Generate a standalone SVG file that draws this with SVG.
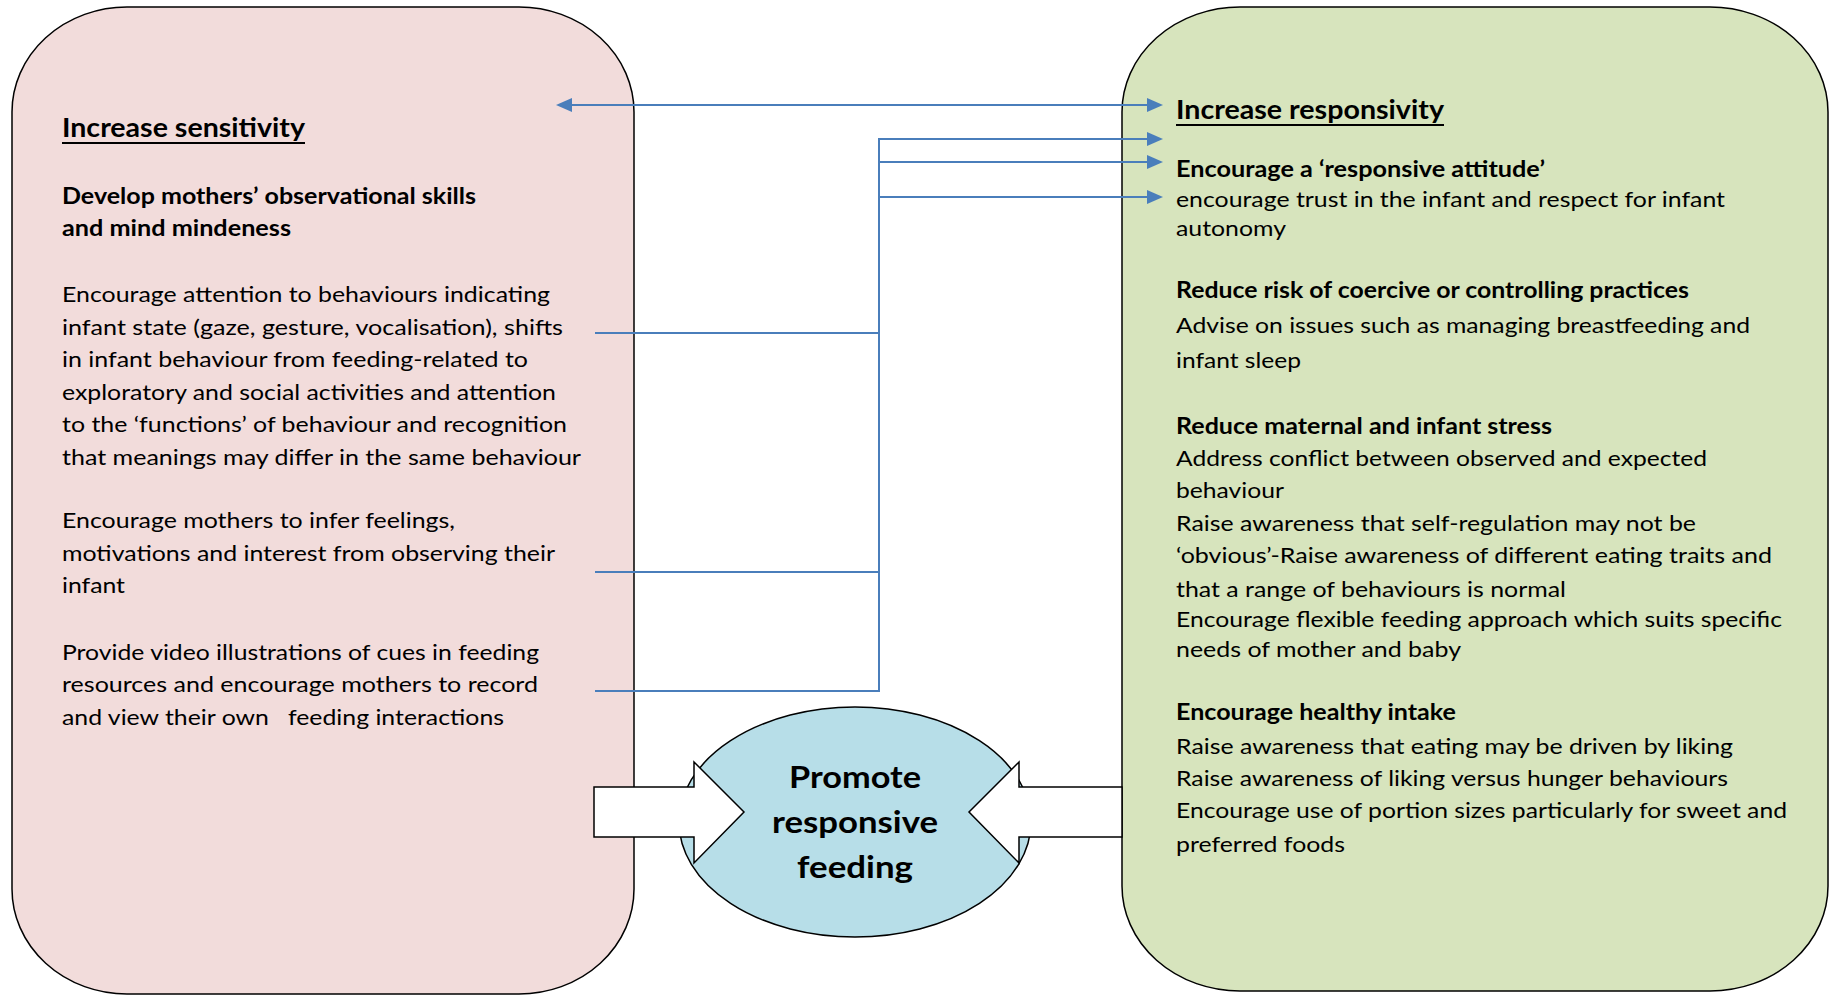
<svg xmlns="http://www.w3.org/2000/svg" width="1830" height="995" viewBox="0 0 1830 995">
  <style>
    text { font-family: Lato, "Open Sans", "Liberation Sans", sans-serif; fill: #000; }
    .body { font-size: 22px; }
    .head { font-size: 22px; font-weight: bold; }
    .title { font-size: 26px; font-weight: bold; }
    .center { font-size: 30px; font-weight: bold; text-anchor: middle; }
    .pre { white-space: pre; }
    .uline { stroke: #000; stroke-width: 2; }
    .box { stroke: #000; stroke-width: 1.5; }
    .conn { fill: none; stroke: #4a7ebb; stroke-width: 2; }
    .block { fill: #fff; stroke: #000; stroke-width: 1.5; stroke-linejoin: miter; }
  </style>
  <defs>
    <marker id="arrow" viewBox="0 0 16 14" refX="2" refY="7" markerWidth="16" markerHeight="14" markerUnits="userSpaceOnUse" orient="auto-start-reverse">
      <path d="M0,0 L16,7 L0,14 z" fill="#4a7ebb"/>
    </marker>
  </defs>

  <rect width="1830" height="995" fill="#fff"/>

  <!-- Sensitivity panel -->
  <g id="sensitivity">
    <rect class="box" x="12" y="7" width="622" height="987" rx="115" ry="105" fill="#f2dcdb"/>
    <text class="title" x="62" y="137" textLength="243" lengthAdjust="spacingAndGlyphs">Increase sensitivity</text>
    <line class="uline" x1="62" y1="143" x2="305" y2="143"/>
    <text class="head" x="62" y="204" textLength="414" lengthAdjust="spacingAndGlyphs">Develop mothers’ observational skills</text>
    <text class="head" x="62" y="236" textLength="229" lengthAdjust="spacingAndGlyphs">and mind mindeness</text>
    <text class="body" x="62" y="302" textLength="488" lengthAdjust="spacingAndGlyphs">Encourage attention to behaviours indicating</text>
    <text class="body" x="62" y="334.5" textLength="501" lengthAdjust="spacingAndGlyphs">infant state (gaze, gesture, vocalisation), shifts</text>
    <text class="body" x="62" y="367" textLength="466" lengthAdjust="spacingAndGlyphs">in infant behaviour from feeding-related to</text>
    <text class="body" x="62" y="399.5" textLength="494" lengthAdjust="spacingAndGlyphs">exploratory and social activities and attention</text>
    <text class="body" x="62" y="432" textLength="505" lengthAdjust="spacingAndGlyphs">to the ‘functions’ of behaviour and recognition</text>
    <text class="body" x="62" y="464.5" textLength="519" lengthAdjust="spacingAndGlyphs">that meanings may differ in the same behaviour</text>
    <text class="body" x="62" y="528" textLength="393" lengthAdjust="spacingAndGlyphs">Encourage mothers to infer feelings,</text>
    <text class="body" x="62" y="561" textLength="493" lengthAdjust="spacingAndGlyphs">motivations and interest from observing their</text>
    <text class="body" x="62" y="593" textLength="63" lengthAdjust="spacingAndGlyphs">infant</text>
    <text class="body" x="62" y="660" textLength="477" lengthAdjust="spacingAndGlyphs">Provide video illustrations of cues in feeding</text>
    <text class="body" x="62" y="692" textLength="476" lengthAdjust="spacingAndGlyphs">resources and encourage mothers to record</text>
    <text class="body pre" x="62" y="725" textLength="442" lengthAdjust="spacingAndGlyphs">and view their own   feeding interactions</text>
  </g>

  <!-- Responsivity panel -->
  <g id="responsivity">
    <rect class="box" x="1122" y="7" width="706" height="984" rx="118" ry="105" fill="#d7e4bd"/>
    <text class="title" x="1176" y="119" textLength="268" lengthAdjust="spacingAndGlyphs">Increase responsivity</text>
    <line class="uline" x1="1176" y1="125" x2="1444" y2="125"/>
    <text class="head" x="1176" y="177" textLength="369" lengthAdjust="spacingAndGlyphs">Encourage a ‘responsive attitude’</text>
    <text class="body" x="1176" y="207" textLength="549" lengthAdjust="spacingAndGlyphs">encourage trust in the infant and respect for infant</text>
    <text class="body" x="1176" y="236" textLength="110" lengthAdjust="spacingAndGlyphs">autonomy</text>
    <text class="head" x="1176" y="298" textLength="513" lengthAdjust="spacingAndGlyphs">Reduce risk of coercive or controlling practices</text>
    <text class="body" x="1176" y="333" textLength="574" lengthAdjust="spacingAndGlyphs">Advise on issues such as managing breastfeeding and</text>
    <text class="body" x="1176" y="368" textLength="125" lengthAdjust="spacingAndGlyphs">infant sleep</text>
    <text class="head" x="1176" y="434" textLength="376" lengthAdjust="spacingAndGlyphs">Reduce maternal and infant stress</text>
    <text class="body" x="1176" y="466" textLength="531" lengthAdjust="spacingAndGlyphs">Address conflict between observed and expected</text>
    <text class="body" x="1176" y="498" textLength="108" lengthAdjust="spacingAndGlyphs">behaviour</text>
    <text class="body" x="1176" y="531" textLength="520" lengthAdjust="spacingAndGlyphs">Raise awareness that self-regulation may not be</text>
    <text class="body" x="1176" y="563" textLength="596" lengthAdjust="spacingAndGlyphs">‘obvious’-Raise awareness of different eating traits and</text>
    <text class="body" x="1176" y="597" textLength="390" lengthAdjust="spacingAndGlyphs">that a range of behaviours is normal</text>
    <text class="body" x="1176" y="627" textLength="606" lengthAdjust="spacingAndGlyphs">Encourage flexible feeding approach which suits specific</text>
    <text class="body" x="1176" y="657" textLength="285" lengthAdjust="spacingAndGlyphs">needs of mother and baby</text>
    <text class="head" x="1176" y="720" textLength="280" lengthAdjust="spacingAndGlyphs">Encourage healthy intake</text>
    <text class="body" x="1176" y="754" textLength="557" lengthAdjust="spacingAndGlyphs">Raise awareness that eating may be driven by liking</text>
    <text class="body" x="1176" y="786" textLength="552" lengthAdjust="spacingAndGlyphs">Raise awareness of liking versus hunger behaviours</text>
    <text class="body" x="1176" y="818" textLength="611" lengthAdjust="spacingAndGlyphs">Encourage use of portion sizes particularly for sweet and</text>
    <text class="body" x="1176" y="852" textLength="169" lengthAdjust="spacingAndGlyphs">preferred foods</text>
  </g>

  <!-- Central goal with the two block arrows feeding into it -->
  <g id="goal">
    <ellipse cx="855" cy="822" rx="176" ry="115" fill="#b7dee8" stroke="#000" stroke-width="1.5"/>
    <polygon class="block" points="594,787 694,787 694,762 744,812 694,863 694,837 594,837"/>
    <polygon class="block" points="1122,787 1019,787 1019,762 969,812 1019,863 1019,837 1122,837"/>
    <text class="center" x="855" y="788" textLength="132" lengthAdjust="spacingAndGlyphs">Promote</text>
    <text class="center" x="855" y="833" textLength="166" lengthAdjust="spacingAndGlyphs">responsive</text>
    <text class="center" x="855" y="878" textLength="116" lengthAdjust="spacingAndGlyphs">feeding</text>
  </g>

  <!-- Connectors -->
  <g id="connectors">
    <line class="conn" x1="570" y1="105" x2="1149" y2="105" marker-start="url(#arrow)" marker-end="url(#arrow)"/>
    <path class="conn" d="M595,333 H879"/>
    <path class="conn" d="M595,572 H879"/>
    <path class="conn" d="M595,691 H879 V139 H1149" marker-end="url(#arrow)"/>
    <path class="conn" d="M879,162 H1149" marker-end="url(#arrow)"/>
    <path class="conn" d="M879,197 H1149" marker-end="url(#arrow)"/>
  </g>
</svg>
